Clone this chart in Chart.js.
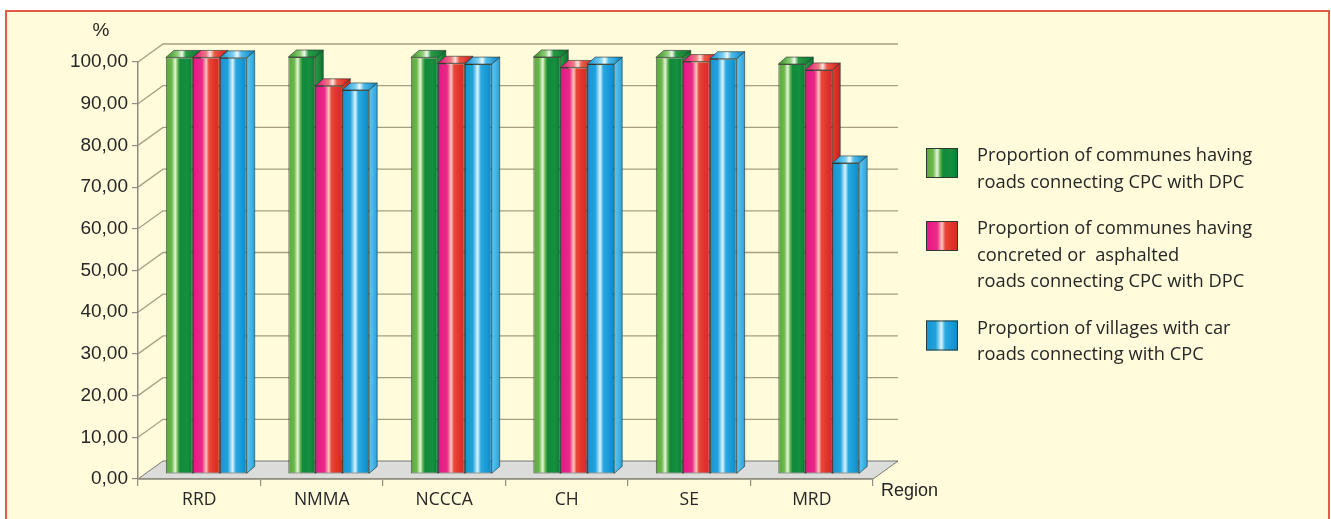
<!DOCTYPE html>
<html>
<head>
<meta charset="utf-8">
<script src="https://cdn.jsdelivr.net/npm/chart.js@4.4.0/dist/chart.umd.min.js"></script>
<style>
  html, body { margin: 0; padding: 0; background: #ffffff; width: 1331px; height: 519px; overflow: hidden; }
  #frame { position: absolute; left: 5px; top: 10px; width: 1321px; height: 520px; border: 2px solid #e8594a; background: #fffbdb; }
  #wrap { position: absolute; left: 0; top: 0; width: 1331px; height: 519px; }
</style>
</head>
<body>
<div id="frame"></div>
<div id="wrap"><canvas id="chart"></canvas></div>
<script>
// Regions on the category axis
const categories = ['RRD', 'NMMA', 'NCCCA', 'CH', 'SE', 'MRD'];

// Proportion of communes having roads connecting CPC with DPC (%)
const communesRoads = [99.9, 100.0, 99.9, 100.0, 99.9, 98.3];
// Proportion of communes having concreted or asphalted roads connecting CPC with DPC (%)
const communesPaved = [99.9, 93.1, 98.5, 97.5, 98.9, 96.9];
// Proportion of villages with car roads connecting with CPC (%)
const villagesCarRoads = [99.8, 92.1, 98.3, 98.3, 99.6, 74.6];

// Legend text, one entry per series, split into display lines
const seriesLabels = [
  ['Proportion of communes having', 'roads connecting CPC with DPC'],
  ['Proportion of communes having', 'concreted or  asphalted', 'roads connecting CPC with DPC'],
  ['Proportion of villages with car', 'roads connecting with CPC']
];

// Value axis settings
const yMin = 0, yMax = 100, yStep = 10;
const yUnit = '%';
const xTitle = 'Region';

// ---- styling ----
const CATEGORY_PCT = 0.66;
const WALL = { dx: 25, dy: -18 };     // depth of the back wall
const BAR_SHIFT = { dx: 7, dy: -5 };  // bars stand midway on the floor
const BAR_DEPTH = { dx: 8, dy: -7 };  // depth of each column

const STYLES = [
  { // green
    front: [[0, '#57a63a'], [0.22, '#6db84c'], [0.35, '#e6f6dc'], [0.45, '#5cb24a'], [0.53, '#11893b'], [0.8, '#14903e'], [1, '#0c7a33']],
    side: ['#2e9a42', '#0b7430'],
    top: [[0, '#4ea33a'], [0.3, '#8fce7a'], [0.45, '#f2fbec'], [0.6, '#2a9a44'], [1, '#0f8038']]
  },
  { // red
    front: [[0, '#e4168a'], [0.35, '#ea2a86'], [0.5, '#f9c7bd'], [0.6, '#e8473a'], [0.8, '#e2332a'], [1, '#d42a24']],
    side: ['#e2392d', '#c92620'],
    top: [[0, '#e52a80'], [0.35, '#f07a82'], [0.5, '#fde6df'], [0.65, '#ec5a48'], [1, '#d92e26']]
  },
  { // blue
    front: [[0, '#1694d2'], [0.3, '#22a2dc'], [0.48, '#d9f5ff'], [0.6, '#2aa8e0'], [0.85, '#1597d3'], [1, '#0f86c0']],
    side: ['#62c6ee', '#2aa3dc'],
    top: [[0, '#2a9fd8'], [0.35, '#7fd0f2'], [0.5, '#eefaff'], [0.65, '#50bce9'], [1, '#1d93cf']]
  }
];
const OUTLINE = 'rgba(35, 45, 40, 0.75)';
const GRID_COLOR = '#a59f84';
const AXIS_COLOR = '#8f8d82';
const TEXT_COLOR = '#262626';

function hGradient(ctx, x0, x1, stops) {
  const g = ctx.createLinearGradient(x0, 0, x1, 0);
  stops.forEach(([o, c]) => g.addColorStop(o, c));
  return g;
}

// Front-face fill: a horizontal cylinder-like shading spanning one column
function frontFill(c) {
  const st = STYLES[c.datasetIndex];
  const chart = c.chart, xs = chart.scales && chart.scales.x;
  const plain = st.front[4][1];
  if (c.type !== 'data' || !xs || !chart.chartArea) return plain;
  const catW = Math.abs(xs.getPixelForValue(1) - xs.getPixelForValue(0));
  const groupW = catW * CATEGORY_PCT;
  const bw = groupW / STYLES.length;
  const left = xs.getPixelForValue(c.dataIndex) - groupW / 2 + c.datasetIndex * bw;
  if (!isFinite(left) || !isFinite(bw) || bw <= 0) return plain;
  return hGradient(chart.ctx, left, left + bw, st.front);
}

function poly(ctx, pts, fill) {
  ctx.beginPath();
  ctx.moveTo(pts[0][0], pts[0][1]);
  for (let i = 1; i < pts.length; i++) ctx.lineTo(pts[i][0], pts[i][1]);
  ctx.closePath();
  ctx.fillStyle = fill;
  ctx.fill();
  ctx.lineWidth = 0.8;
  ctx.strokeStyle = OUTLINE;
  ctx.stroke();
}

// Floor and walls behind the columns
const wallsPlugin = {
  id: 'walls',
  beforeDraw(chart) {
    const { ctx, chartArea: a, scales: { y } } = chart;
    ctx.save();
    // floor
    const y0 = y.getPixelForValue(yMin);
    poly(ctx, [[a.left, y0], [a.right, y0], [a.right + WALL.dx, y0 + WALL.dy], [a.left + WALL.dx, y0 + WALL.dy]], '#dcdcda');
    // side wall diagonals and back wall grid lines
    ctx.strokeStyle = GRID_COLOR;
    ctx.lineWidth = 1.3;
    for (let v = yMin + yStep; v <= yMax; v += yStep) {
      const py = y.getPixelForValue(v);
      ctx.beginPath();
      ctx.moveTo(a.left, py);
      ctx.lineTo(a.left + WALL.dx, py + WALL.dy);
      ctx.lineTo(a.right + WALL.dx, py + WALL.dy);
      ctx.stroke();
    }
    ctx.restore();
  }
};

// Side and top faces of each column; the library draws the front faces
const columnsPlugin = {
  id: 'columns3d',
  beforeDatasetsDraw(chart) {
    const ctx = chart.ctx;
    ctx.save();
    ctx.translate(BAR_SHIFT.dx, BAR_SHIFT.dy);
    const bars = [];
    chart.data.datasets.forEach((ds, di) => {
      chart.getDatasetMeta(di).data.forEach(el => {
        const p = el.getProps(['x', 'y', 'base', 'width'], true);
        bars.push({ di, l: p.x - p.width / 2, r: p.x + p.width / 2, t: p.y, b: p.base });
      });
    });
    const { dx, dy } = BAR_DEPTH;
    bars.forEach(br => {
      if (![br.l, br.r, br.t, br.b].every(isFinite)) return;
      const st = STYLES[br.di];
      const g = ctx.createLinearGradient(br.r, 0, br.r + dx, 0);
      g.addColorStop(0, st.side[0]); g.addColorStop(1, st.side[1]);
      poly(ctx, [[br.r, br.t], [br.r + dx, br.t + dy], [br.r + dx, br.b + dy], [br.r, br.b]], g);
    });
    bars.forEach(br => {
      if (![br.l, br.r, br.t, br.b].every(isFinite)) return;
      const st = STYLES[br.di];
      const g = hGradient(ctx, br.l + dx / 2, br.r + dx / 2, st.top);
      poly(ctx, [[br.l, br.t], [br.l + dx, br.t + dy], [br.r + dx, br.t + dy], [br.r, br.t]], g);
    });
  },
  afterDatasetsDraw(chart) {
    chart.ctx.restore();
  }
};

// Axis captions and the series key
const annotationsPlugin = {
  id: 'annotations',
  afterDraw(chart) {
    const { ctx, chartArea: a } = chart;
    ctx.save();
    ctx.fillStyle = TEXT_COLOR;
    ctx.textBaseline = 'middle';
    ctx.font = '19px "Liberation Sans", Arial, sans-serif';
    ctx.textAlign = 'center';
    ctx.fillText(yUnit, 101, 31);
    ctx.textAlign = 'left';
    ctx.font = '18px "Liberation Sans", Arial, sans-serif';
    ctx.fillText(xTitle, a.right + 8, 491);

    // key
    const swX = 926, swW = 32, swH = 30, txtX = 977, lineH = 26.5, gap = 20;
    let lineY = 156;
    ctx.font = '18.3px "Open Sans", sans-serif';
    seriesLabels.forEach((lines, i) => {
      const st = STYLES[i];
      const top = lineY - 8;
      ctx.fillStyle = hGradient(ctx, swX, swX + swW, st.front);
      ctx.fillRect(swX, top, swW, swH);
      ctx.lineWidth = 1;
      ctx.strokeStyle = '#2f3a33';
      ctx.strokeRect(swX + 0.5, top + 0.5, swW - 1, swH - 1);
      ctx.fillStyle = TEXT_COLOR;
      lines.forEach((s, k) => ctx.fillText(s, txtX, lineY + k * lineH));
      lineY += lines.length * lineH + gap;
    });
    ctx.restore();
  }
};

const seriesValues = [communesRoads, communesPaved, villagesCarRoads];

new Chart(document.getElementById('chart'), {
  type: 'bar',
  data: {
    labels: categories,
    datasets: seriesValues.map((vals, i) => ({
      label: seriesLabels[i].join(' '),
      data: vals,
      backgroundColor: frontFill,
      borderColor: OUTLINE,
      borderWidth: 1,
      borderSkipped: false,
      categoryPercentage: CATEGORY_PCT,
      barPercentage: 1,
      clip: false
    }))
  },
  options: {
    responsive: true,
    maintainAspectRatio: false,
    animation: false,
    layout: { padding: { left: 0, right: 458, top: 62, bottom: 0 } },
    plugins: { legend: { display: false }, tooltip: { enabled: false } },
    scales: {
      x: {
        offset: true,
        afterFit: s => { s.height = 40; },
        grid: { offset: true, drawOnChartArea: false, drawTicks: true, tickLength: 7, color: AXIS_COLOR, lineWidth: 1.2 },
        border: { display: true, color: AXIS_COLOR, width: 1.5 },
        ticks: { color: TEXT_COLOR, padding: 4, font: { family: '"Open Sans", sans-serif', size: 17.5 } }
      },
      y: {
        min: yMin,
        max: yMax,
        afterFit: s => { s.width = 138; },
        grid: { drawOnChartArea: false, drawTicks: true, tickLength: 6, color: AXIS_COLOR, lineWidth: 1.2 },
        border: { display: true, color: AXIS_COLOR, width: 1.5 },
        ticks: {
          stepSize: yStep,
          color: TEXT_COLOR,
          padding: 4,
          font: { family: '"Liberation Sans", Arial, sans-serif', size: 19 },
          callback: v => v.toFixed(2).replace('.', ',')
        }
      }
    }
  },
  plugins: [wallsPlugin, columnsPlugin, annotationsPlugin]
});
</script>
</body>
</html>
